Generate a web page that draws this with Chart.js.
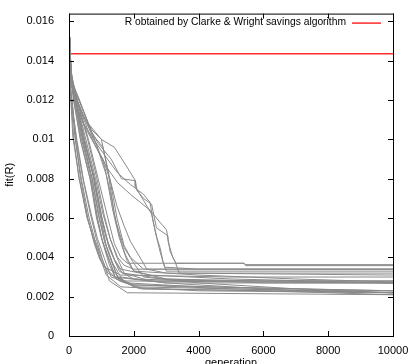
<!DOCTYPE html>
<html lang="en">
<head>
    <meta charset="UTF-8">
    <title>fit(R) per generation</title>
    <script src="https://cdn.jsdelivr.net/npm/chart.js"></script>
    <style>
        html, body {
            margin: 0;
            padding: 0;
            overflow: hidden;
            background: #fff;
        }
        #chart {
            display: block;
        }
    </style>
</head>
<body>
    <canvas id="chart" width="409" height="370"></canvas>

    <script>
        // best fit(R) of each run, as [generation, fit] pairs
        // fast runs
        const run01 = [[0, 0.0151], [20, 0.0130], [60, 0.0119], [120, 0.0101], [320, 0.0080], [560, 0.0060], [760, 0.0050], [960, 0.0040], [1150, 0.0031], [1600, 0.0025], [4000, 0.0023], [10000, 0.0022]];
        const run02 = [[0, 0.0152], [30, 0.0128], [90, 0.0120], [200, 0.0100], [380, 0.0080], [620, 0.0060], [800, 0.0049], [1000, 0.0040], [1200, 0.0032], [1700, 0.0028], [10000, 0.0027]];
        const run03 = [[0, 0.0150], [25, 0.0127], [80, 0.0118], [250, 0.0099], [450, 0.0079], [700, 0.0061], [870, 0.0050], [1080, 0.0040], [1300, 0.0030], [2000, 0.0026], [7000, 0.0024], [10000, 0.0023]];
        const run04 = [[0, 0.0151], [35, 0.0129], [100, 0.0119], [180, 0.0102], [350, 0.0081], [580, 0.0060], [780, 0.0047], [950, 0.0039], [1100, 0.0035], [1600, 0.0031], [5000, 0.0030], [10000, 0.0030]];
        const run05 = [[0, 0.0152], [30, 0.0127], [70, 0.0120], [150, 0.0100], [300, 0.0081], [550, 0.0061], [740, 0.0050], [900, 0.0042], [1050, 0.0036], [1400, 0.0030], [3000, 0.0027], [7000, 0.0023], [10000, 0.0022]];
        const run06 = [[0, 0.0151], [40, 0.0126], [110, 0.0117], [230, 0.0099], [420, 0.0081], [660, 0.0062], [850, 0.0049], [1050, 0.0038], [1250, 0.0028], [1800, 0.0022], [10000, 0.0021]];
        // middle of the bundle
        const run07 = [[0, 0.0152], [40, 0.0135], [150, 0.0120], [350, 0.0100], [650, 0.0080], [850, 0.0060], [1000, 0.0050], [1200, 0.0040], [1400, 0.0032], [1800, 0.0027], [4000, 0.0025], [10000, 0.0023]];
        const run08 = [[0, 0.0151], [60, 0.0133], [180, 0.0120], [400, 0.0101], [700, 0.0081], [900, 0.0062], [1100, 0.0048], [1300, 0.0039], [1500, 0.0030], [2000, 0.0025], [5000, 0.0024], [10000, 0.0022]];
        const run09 = [[0, 0.0153], [50, 0.0134], [200, 0.0121], [450, 0.0100], [720, 0.0083], [950, 0.0063], [1150, 0.0050], [1350, 0.0041], [1550, 0.0033], [2000, 0.0029], [4000, 0.0028], [10000, 0.0028]];
        const run10 = [[0, 0.0152], [70, 0.0131], [220, 0.0119], [500, 0.0099], [780, 0.0080], [1000, 0.0061], [1200, 0.0048], [1400, 0.0039], [1600, 0.0034], [2500, 0.0031], [5000, 0.0029], [10000, 0.0027]];
        const run11 = [[0, 0.0150], [30, 0.0133], [160, 0.0118], [380, 0.0098], [680, 0.0078], [880, 0.0059], [1050, 0.0047], [1250, 0.0036], [1450, 0.0029], [2200, 0.0024], [6000, 0.0023], [10000, 0.0021]];
        const run12 = [[0, 0.0152], [50, 0.0132], [240, 0.0120], [560, 0.0101], [850, 0.0081], [1080, 0.0062], [1280, 0.0049], [1480, 0.0040], [1700, 0.0032], [2500, 0.0028], [10000, 0.0028]];
        const run13 = [[0, 0.0151], [60, 0.0130], [190, 0.0119], [420, 0.0102], [750, 0.0082], [980, 0.0060], [1150, 0.0046], [1350, 0.0037], [1600, 0.0030], [3000, 0.0027], [10000, 0.0027]];
        const run14 = [[0, 0.0153], [80, 0.0131], [250, 0.0120], [600, 0.0100], [900, 0.0080], [1200, 0.0060], [1400, 0.0047], [1600, 0.0040], [1800, 0.0037], [5400, 0.0037], [5450, 0.00358], [10000, 0.00358]];
        const run15 = [[0, 0.0152], [45, 0.0134], [170, 0.0121], [370, 0.0101], [660, 0.0082], [870, 0.0061], [1020, 0.0049], [1220, 0.0040], [1420, 0.0030], [2000, 0.0026], [5000, 0.0024], [8000, 0.0023], [10000, 0.0023]];
        const run16 = [[0, 0.0151], [55, 0.0132], [210, 0.0120], [480, 0.0099], [800, 0.0079], [1020, 0.0060], [1230, 0.0045], [1450, 0.0037], [1650, 0.0032], [3000, 0.0029], [6000, 0.0028], [10000, 0.0027]];
        const run17 = [[0, 0.0152], [65, 0.0131], [230, 0.0119], [520, 0.0100], [820, 0.0080], [1050, 0.0062], [1260, 0.0050], [1500, 0.0040], [1700, 0.0036], [2000, 0.0034], [10000, 0.0034]];
        const run18 = [[0, 0.0150], [40, 0.0133], [200, 0.0118], [440, 0.0099], [730, 0.0079], [940, 0.0060], [1120, 0.0047], [1330, 0.0037], [1550, 0.0028], [2300, 0.0024], [10000, 0.0022]];
        // slow runs
        const run19 = [[0, 0.0153], [100, 0.0128], [300, 0.0120], [600, 0.0108], [1000, 0.0100], [1200, 0.0084], [1400, 0.0062], [1650, 0.0045], [1800, 0.0038], [2000, 0.0033], [4000, 0.0031], [7000, 0.0029], [10000, 0.00275]];
        const run20 = [[0, 0.0152], [80, 0.0130], [340, 0.0119], [700, 0.0103], [1050, 0.0096], [1260, 0.0080], [1480, 0.0060], [1700, 0.0046], [1900, 0.0040], [2100, 0.0037], [2300, 0.0034], [5000, 0.0034], [10000, 0.0034]];
        const run21 = [[0, 0.0151], [60, 0.0132], [250, 0.0120], [550, 0.0108], [850, 0.0097], [1150, 0.0082], [1350, 0.0064], [1550, 0.0050], [1750, 0.0041], [2000, 0.0033], [3000, 0.0029], [6000, 0.0027], [10000, 0.0027]];
        const run22 = [[0, 0.0152], [90, 0.0129], [300, 0.0121], [650, 0.0106], [950, 0.0093], [1100, 0.0086], [1300, 0.0071], [1450, 0.0058], [1700, 0.0045], [2000, 0.0037], [2300, 0.0030], [4000, 0.0027], [7000, 0.0024], [10000, 0.0022]];
        // runs that stay high past 2000 generations
        const run23 = [[0, 0.0153], [60, 0.0135], [200, 0.0122], [400, 0.0113], [700, 0.0105], [1000, 0.0100], [1400, 0.0096], [1750, 0.0087], [2050, 0.0079], [2100, 0.0074], [2300, 0.0070], [2550, 0.0067], [2700, 0.0055], [3050, 0.0051], [3060, 0.0048], [3200, 0.0040], [3300, 0.0037], [5400, 0.0037], [5450, 0.00363], [10000, 0.00363]];
        const run24 = [[0, 0.0152], [80, 0.0133], [250, 0.0120], [500, 0.0110], [900, 0.0098], [1300, 0.0090], [1620, 0.0080], [2040, 0.0079], [2045, 0.0076], [2300, 0.0069], [2550, 0.0062], [2650, 0.0054], [2810, 0.0043], [2950, 0.0035], [4000, 0.0034], [10000, 0.0034]];
        const run25 = [[0, 0.0151], [70, 0.0132], [200, 0.0119], [450, 0.0108], [800, 0.0099], [1100, 0.0092], [1500, 0.0083], [1900, 0.0077], [2300, 0.0072], [2500, 0.0068], [2590, 0.0059], [2710, 0.0050], [2810, 0.0045], [2900, 0.0038], [3000, 0.0033], [10000, 0.0033]];
        const run26 = [[0, 0.0152], [90, 0.0131], [300, 0.0117], [600, 0.0104], [900, 0.0094], [1200, 0.0085], [1500, 0.0078], [1900, 0.0072], [2200, 0.0068], [2500, 0.0064], [2800, 0.0058], [3010, 0.0054], [3120, 0.0043], [3270, 0.0038], [3400, 0.0032], [10000, 0.0031]];
        const run27 = [[0, 0.0152], [50, 0.0130], [200, 0.0118], [500, 0.0106], [800, 0.0097], [1050, 0.0090], [1260, 0.0080], [1480, 0.0066], [1700, 0.0056], [1900, 0.0048], [2190, 0.0040], [2400, 0.0034], [3000, 0.0032], [10000, 0.0032]];

        const runs = [run01, run02, run03, run04, run05, run06, run07, run08, run09, run10,
                      run11, run12, run13, run14, run15, run16, run17, run18, run19, run20,
                      run21, run22, run23, run24, run25, run26, run27];

        // Clarke & Wright reference value
        const cwLabel = 'R obtained by Clarke & Wright savings algorithm';
        const cwGens = [0, 10000];
        const cwValues = [0.01436, 0.01436];

        // axes
        const xTicks = [0, 2000, 4000, 6000, 8000, 10000];
        const xTickLabels = ['0', '2000', '4000', '6000', '8000', '10000'];
        const yTicks = [0, 0.002, 0.004, 0.006, 0.008, 0.01, 0.012, 0.014, 0.016];
        const yTickLabels = ['0', '0.002', '0.004', '0.006', '0.008', '0.01', '0.012', '0.014', '0.016'];

        const FONT = 'Liberation Sans, Arial, Helvetica, sans-serif';

        const datasets = runs.map(run => ({
            data: run.map(([g, v]) => ({ x: g, y: v })),
            borderColor: '#8a8a8a',
            borderWidth: 1,
            pointRadius: 0,
            fill: false
        }));
        datasets.push({
            label: cwLabel,
            data: cwGens.map((g, i) => ({ x: g, y: cwValues[i] })),
            borderColor: '#ff2a2a',
            borderWidth: 1.5,
            pointRadius: 0,
            fill: false
        });

        // gnuplot style box: frame, inward ticks on every side, key inside top right
        const gnuplotFrame = {
            id: 'gnuplotFrame',
            afterDatasetsDraw(chart) {
                const { ctx, chartArea: a, scales: { x, y } } = chart;
                ctx.save();
                ctx.strokeStyle = '#000';
                ctx.lineWidth = 1;
                ctx.strokeRect(a.left + 0.5, a.top + 0.5, a.right - a.left, a.bottom - a.top);

                const len = 5;
                ctx.beginPath();
                yTicks.forEach(v => {
                    const py = Math.round(y.getPixelForValue(v)) + 0.5;
                    ctx.moveTo(a.left, py); ctx.lineTo(a.left + len, py);
                    ctx.moveTo(a.right, py); ctx.lineTo(a.right - len, py);
                });
                xTicks.forEach(v => {
                    const px = Math.round(x.getPixelForValue(v)) + 0.5;
                    ctx.moveTo(px, a.bottom); ctx.lineTo(px, a.bottom - len);
                    ctx.moveTo(px, a.top); ctx.lineTo(px, a.top + len);
                });
                ctx.stroke();

                // key
                const ky = a.top + 9;
                ctx.font = '10.3px ' + FONT;
                ctx.fillStyle = '#000';
                ctx.textAlign = 'right';
                ctx.textBaseline = 'middle';
                ctx.fillText(cwLabel, 346, ky);
                ctx.strokeStyle = '#ff2a2a';
                ctx.lineWidth = 1.5;
                ctx.beginPath();
                ctx.moveTo(352, ky + 0.5);
                ctx.lineTo(381, ky + 0.5);
                ctx.stroke();
                ctx.restore();
            }
        };

        new Chart(document.getElementById('chart').getContext('2d'), {
            type: 'line',
            data: { datasets },
            options: {
                responsive: false,
                animation: false,
                layout: { padding: { top: 12, right: 16, left: 0, bottom: 0 } },
                plugins: {
                    legend: { display: false },
                    tooltip: { enabled: false }
                },
                scales: {
                    x: {
                        type: 'linear',
                        min: 0,
                        max: 10000,
                        afterBuildTicks: s => { s.ticks = xTicks.map(v => ({ value: v })); },
                        afterFit: s => { s.height = 34; },
                        grid: { display: false },
                        border: { display: false },
                        ticks: {
                            autoSkip: false,
                            maxRotation: 0,
                            padding: 0,
                            color: '#000',
                            font: { family: FONT, size: 11 },
                            callback: (v, i) => xTickLabels[i]
                        },
                        title: {
                            display: true,
                            text: 'generation',
                            color: '#000',
                            padding: 0,
                            font: { family: FONT, size: 11 }
                        }
                    },
                    y: {
                        type: 'linear',
                        min: 0,
                        max: 0.0164,
                        afterBuildTicks: s => { s.ticks = yTicks.map(v => ({ value: v })); },
                        afterFit: s => { s.width = 69; },
                        grid: { display: false },
                        border: { display: false },
                        ticks: {
                            padding: 7,
                            color: '#000',
                            font: { family: FONT, size: 11 },
                            callback: (v, i) => yTickLabels[i]
                        },
                        title: {
                            display: true,
                            text: 'fit(R)',
                            color: '#000',
                            padding: { top: 3, bottom: 0 },
                            font: { family: FONT, size: 11 }
                        }
                    }
                }
            },
            plugins: [gnuplotFrame]
        });
    </script>
</body>
</html>
